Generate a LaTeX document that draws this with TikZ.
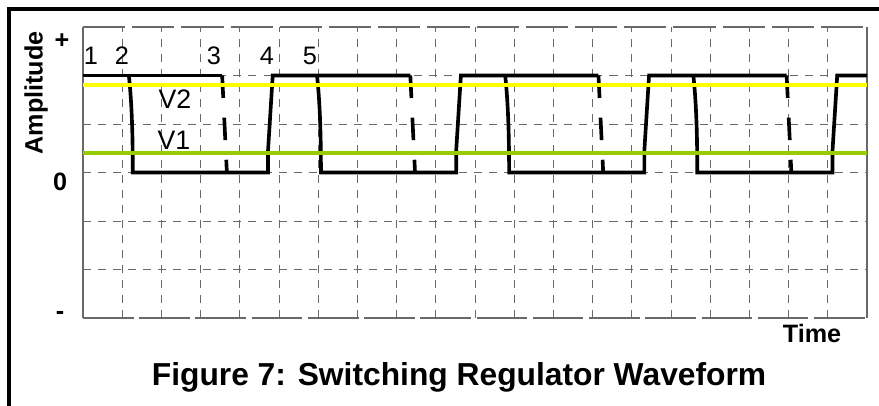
\documentclass[tikz,border=0pt]{standalone}
\usepackage{fontspec}
\setmainfont{Liberation Sans}
\usepackage{tikz}
\usetikzlibrary{calc}
\usepackage{xcolor}
\definecolor{vyellow}{RGB}{255,255,0}
\definecolor{vgreen}{RGB}{153,204,0}
\definecolor{gridgray}{RGB}{105,105,105}

\begin{document}
\begin{tikzpicture}[
  wave/.style={line width=2.6pt},
  gridline/.style={gridgray,line width=0.7pt,dash pattern=on 5.7pt off 5pt},
  border/.style={gridgray,line width=0.8pt},
  bigbold/.style={font=\fontsize{17.9}{20}\selectfont\bfseries},
  tick/.style={font=\fontsize{18}{20}\selectfont},
  vlabel/.style={font=\fontsize{19}{22}\selectfont}]
  \pgfmathsetmacro{\a}{0.98}
  \pgfmathsetmacro{\b}{1.2125}
  \pgfmathsetmacro{\T}{4.8}
  \useasboundingbox (-2.075,-2.175) rectangle (19.9,7.95);

  % outer frame
  \draw[line width=2.85pt] (-1.85,-2.6) -- (-1.85,7.725) -- (20.2,7.725);

  % grid
  \foreach \n in {1,2,...,19}{
    \draw[gridline] (\n*\a,0) -- ++(0,6*\b);
  }
  \foreach \m in {1,2,...,5}{
    \draw[gridline] (0,\m*\b) -- ++(20*\a,0);
  }
  \draw[border] (0,0) -- (0,6*\b);
  \draw[border] (20*\a,0) -- (20*\a,6*\b);
  \draw[border,dash pattern=on 36pt off 4pt] (0,0) -- (20*\a,0);
  \draw[border,dash pattern=on 30pt off 5pt] (0,6*\b) -- (20*\a,6*\b);

  % waveform
  \draw[wave] (0,5*\b) -- (3.55*\a,5*\b);
  \foreach \k in {0,1,2,3}{
    \pgfmathsetmacro{\o}{\k*\T}
    \pgfmathsetmacro{\e}{min(\o+\T+3.55,20)}
    \draw[wave] ({(\o+1.17)*\a},5*\b)
      .. controls ({(\o+1.25)*\a},4.4*\b) and ({(\o+1.27)*\a},3.7*\b) .. ({(\o+1.27)*\a},3*\b)
      -- ({(\o+4.72)*\a},3*\b) -- ({(\o+4.72)*\a},3.45*\b)
      -- ({(\o+4.84)*\a},5*\b) -- ({\e*\a},5*\b);
    \draw[wave,dash pattern=on 16pt off 14pt] ({(\o+3.55)*\a},5*\b) -- ({(\o+3.67)*\a},3*\b);
  }

  % levels
  \draw[vyellow,line width=2.6pt] (0,4.8*\b) -- (20*\a,4.8*\b);
  \draw[vgreen,line width=2.4pt] (0,3.4*\b) -- (20*\a,3.4*\b);

  % labels
  \node[bigbold,rotate=90] (amp) at (-1.175,5.625) {Amplitude};
  \node[bigbold] (plus) at (-0.525,6.925) {+};
  \node[bigbold] (zero) at (-0.575,3.4) {0};
  \node[bigbold] (minus) at (-0.575,0.075) {-};
  \node[bigbold] (time) at (18.225,-0.4) {Time};
  \node[tick] (t1) at (0.2,6.55) {1};
  \node[tick] (t2) at (0.975,6.55) {2};
  \node[tick] (t3) at (3.275,6.55) {3};
  \node[tick] (t4) at (4.6,6.55) {4};
  \node[tick] (t5) at (5.675,6.55) {5};
  \node[vlabel] (v2) at (2.3,5.475) {V2};
  \node[vlabel] (v1) at (2.275,4.45) {V1};
  \node[font=\fontsize{22.6}{26}\selectfont\bfseries,anchor=base] (title) at (9.4,-1.675)
    {Figure 7: Switching Regulator Waveform};
\end{tikzpicture}
\end{document}
